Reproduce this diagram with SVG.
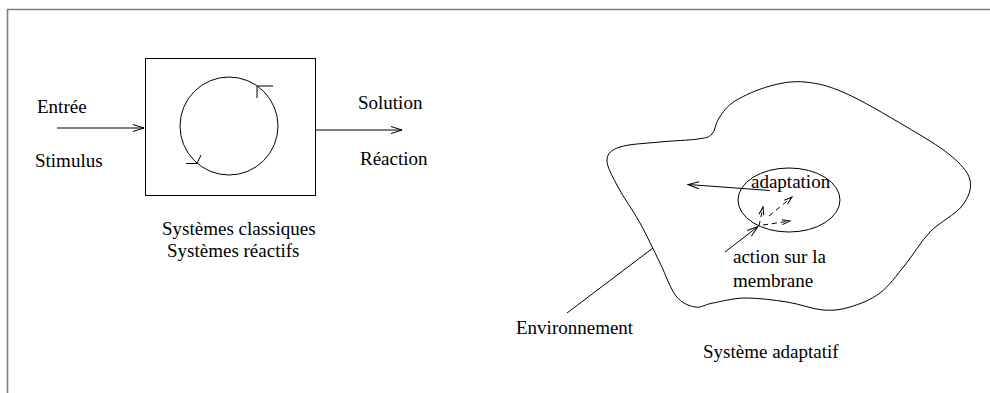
<svg xmlns="http://www.w3.org/2000/svg" width="990" height="393" viewBox="0 0 990 393">
  <style>
    .lbl { font-family: "Liberation Serif", "Times New Roman", serif; font-size: 19px; fill: #000; }
    .ln { fill: none; stroke: #000; stroke-width: 1; }
    .dash { fill: none; stroke: #000; stroke-width: 1; stroke-dasharray: 5 4; }
    .frame { fill: none; stroke: #808080; stroke-width: 1.6; }
  </style>
  <defs>
    <marker id="open" markerUnits="userSpaceOnUse" markerWidth="14" markerHeight="10" refX="11" refY="4" orient="auto" overflow="visible">
      <path d="M0,0.5 L11,4 L0,7.5" fill="none" stroke="#000" stroke-width="1"/>
    </marker>
    <marker id="small" markerUnits="userSpaceOnUse" markerWidth="10" markerHeight="8" refX="8" refY="3" orient="auto" overflow="visible">
      <path d="M0,0.5 L8,3 L0,5.5" fill="none" stroke="#000" stroke-width="1"/>
    </marker>
  </defs>

  <!-- page frame -->
  <path class="frame" d="M990,9.5 H7.5 V393"/>

  <!-- classical / reactive system -->
  <g id="classic-box">
    <rect class="ln" x="145.5" y="58.5" width="170" height="137"/>
    <circle class="ln" cx="229" cy="126" r="49"/>
    <path class="ln" d="M273,86 H257 V98"/>
    <path class="ln" d="M186,163.5 H197 L201,155"/>
  </g>
  <g id="classic-caption">
    <text class="lbl" x="162" y="235">Systèmes classiques</text>
    <text class="lbl" x="167" y="257">Systèmes réactifs</text>
  </g>
  <g id="input-labels">
    <text class="lbl" x="37" y="113">Entrée</text>
    <text class="lbl" x="35" y="167">Stimulus</text>
  </g>
  <g id="output-labels">
    <text class="lbl" x="358" y="109">Solution</text>
    <text class="lbl" x="360" y="165">Réaction</text>
  </g>

  <!-- adaptive system -->
  <g id="environment-membrane">
    <path class="ln" d="M719,118 C722.83,112.5 726.5,106.33 735,101 C743.5,95.67 758.33,89.17 770,86 C781.67,82.83 792.5,80.83 805,82 C817.5,83.17 828.33,85.67 845,93 C861.67,100.33 887.5,115.67 905,126 C922.5,136.33 939.17,146 950,155 C960.83,164 968,171.5 970,180 C972,188.5 968.67,197.33 962,206 C955.33,214.67 939.5,222.17 930,232 C920.5,241.83 913.33,254.83 905,265 C896.67,275.17 889.17,286 880,293 C870.83,300 859.5,304.17 850,307 C840.5,309.83 833.5,310.83 823,310 C812.5,309.17 800,304 787,302 C774,300 757.33,297.83 745,298 C732.67,298.17 721.33,301.5 713,303 C704.67,304.5 701.17,308.17 695,307 C688.83,305.83 681.830,303.33 676,296 C670.17,288.67 666,275.17 660,263 C654,250.83 647,235.67 640,223 C633,210.33 623.5,197.5 618,187 C612.5,176.5 606.67,166.67 607,160 C607.33,153.33 611.17,150 620,147 C628.83,144 647,143.33 660,142 C673,140.67 689.33,140.33 698,139 C706.67,137.67 708.5,137.5 712,134 C715.5,130.5 715.17,123.5 719,118 Z"/>
  </g>
  <g id="adaptation-core">
    <ellipse class="ln" cx="789" cy="200" rx="51" ry="32"/>
    <text class="lbl" x="751" y="188">adaptation</text>
  </g>
  <g id="membrane-label">
    <text class="lbl" x="733" y="263">action sur la</text>
    <text class="lbl" x="733" y="287">membrane</text>
  </g>
  <g id="environment-label">
    <text class="lbl" x="516" y="334">Environnement</text>
  </g>
  <g id="adaptive-caption">
    <text class="lbl" x="703" y="358">Système adaptatif</text>
  </g>

  <!-- connectors -->
  <g id="connectors">
    <line class="ln" x1="57" y1="128" x2="144" y2="128" marker-end="url(#open)"/>
    <line class="ln" x1="315" y1="130" x2="402" y2="130" marker-end="url(#open)"/>
    <line class="ln" x1="770" y1="190.5" x2="688" y2="184.5" marker-end="url(#open)"/>
    <line class="ln" x1="567" y1="313" x2="653" y2="248"/>
    <line class="ln" x1="725" y1="252" x2="758" y2="226.5" marker-end="url(#open)"/>
    <line class="dash" x1="759" y1="226" x2="763" y2="207" marker-end="url(#small)"/>
    <line class="dash" x1="769" y1="216" x2="792" y2="197" marker-end="url(#small)"/>
    <line class="dash" x1="763" y1="225" x2="790" y2="221" marker-end="url(#small)"/>
  </g>
</svg>
